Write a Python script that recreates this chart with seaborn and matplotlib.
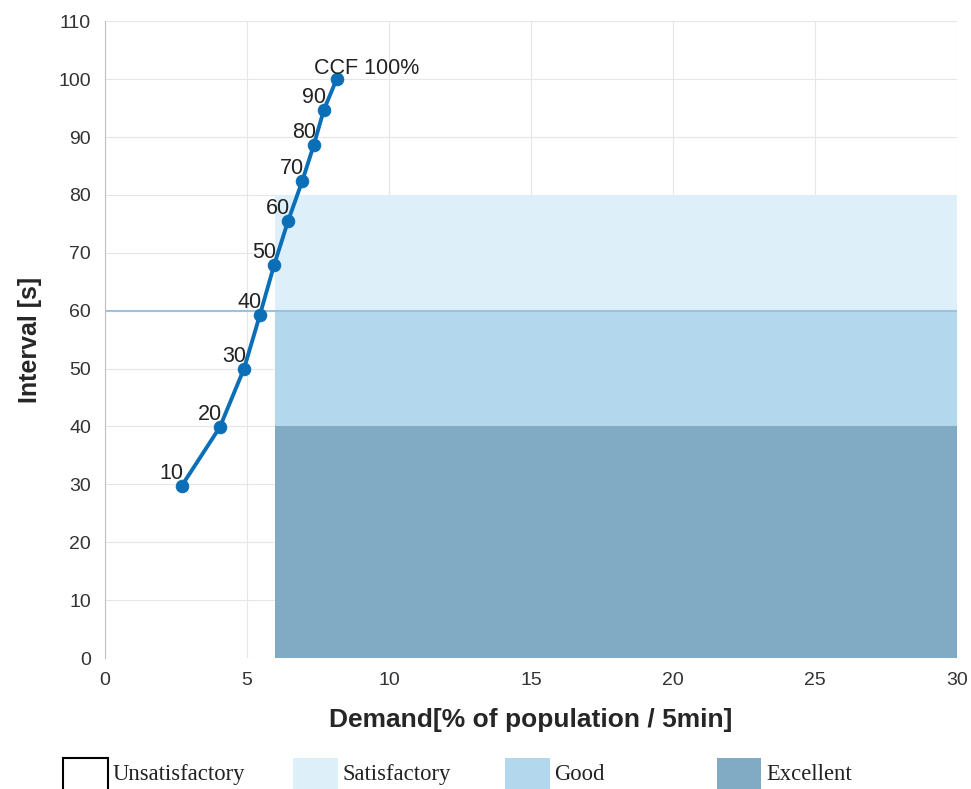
import numpy as np
import pandas as pd
import matplotlib.pyplot as plt
import matplotlib.patches as mpatches
import seaborn as sns

# === Data ===
ccf_labels = ['10', '20', '30', '40', '50', '60', '70', '80', '90', 'CCF 100%']
demand = [2.70, 4.05, 4.90, 5.46, 5.96, 6.45, 6.95, 7.36, 7.71, 8.16]
interval = [29.7, 39.9, 50.0, 59.3, 67.9, 75.5, 82.4, 88.7, 94.7, 100.0]

# service level bands
band_names = ['Excellent', 'Good', 'Satisfactory']
band_x0 = [6, 6, 6]
band_x1 = [30, 30, 30]
band_y0 = [0, 40, 60]
band_y1 = [40, 60, 80]
band_colors = ['#81aac5', '#b3d7ec', '#ddeff8']

legend_names = ['Unsatisfactory', 'Satisfactory', 'Good', 'Excellent']
legend_colors = ['white', '#ddeff8', '#b3d7ec', '#81aac5']

df = pd.DataFrame({'demand': demand, 'interval': interval, 'label': ccf_labels})

sns.set_style('whitegrid', {'grid.color': '#e6e6e6', 'axes.edgecolor': '#bfbfbf'})
plt.rcParams['font.family'] = ['Liberation Sans', 'DejaVu Sans']

fig = plt.figure(figsize=(9.71, 7.89), dpi=100)
ax = fig.add_axes([0.108, 0.166, 0.8775, 0.807])

# bands
for x0, x1, y0, y1, c in zip(band_x0, band_x1, band_y0, band_y1, band_colors):
    ax.add_patch(mpatches.Rectangle((x0, y0), x1 - x0, y1 - y0, facecolor=c,
                                    edgecolor='none', zorder=1))
ax.axhline(60, color='#9cc3dd', lw=1.5, zorder=1.5)

# CCF curve
sns.lineplot(data=df, x='demand', y='interval', ax=ax, color='#0b6fb8', lw=2.8,
             marker='o', markersize=9, markeredgecolor='#0b6fb8', zorder=3,
             sort=False)

for i, row in df.iterrows():
    if row['label'].startswith('CCF'):
        ax.annotate(row['label'], (row['demand'], row['interval']), xytext=(-16, 0),
                    textcoords='offset points', ha='left', va='bottom',
                    fontsize=15.5, color='#222222', zorder=4)
    else:
        ax.annotate(row['label'], (row['demand'], row['interval']), xytext=(1.5, 1.5),
                    textcoords='offset points', ha='right', va='bottom',
                    fontsize=15.5, color='#222222', zorder=4)

ax.set_xlim(0, 30)
ax.set_ylim(0, 110)
ax.set_xticks(np.arange(0, 31, 5))
ax.set_yticks(np.arange(0, 111, 10))
ax.tick_params(axis='both', labelsize=14, labelcolor='#333333', length=0, pad=10)
ax.set_axisbelow(True)
for s in ['top', 'right', 'bottom']:
    ax.spines[s].set_visible(False)
ax.spines['left'].set_color('#bfbfbf')

ax.set_xlabel('Demand[% of population / 5min]', fontsize=19, fontweight='bold', labelpad=14)
ax.set_ylabel('Interval [s]', fontsize=18, fontweight='bold', labelpad=12)

# legend along the bottom edge
leg_x = [0.065, 0.302, 0.520, 0.738]
for x, name, c in zip(leg_x, legend_names, legend_colors):
    fig.patches.append(mpatches.Rectangle((x, -0.01), 0.046, 0.049, transform=fig.transFigure,
                                          facecolor=c, edgecolor='black' if c == 'white' else 'none',
                                          lw=1.5, figure=fig))
    fig.text(x + 0.051, 0.018, name, fontsize=16.3, family=['Liberation Serif', 'DejaVu Serif'],
             color='#222222', va='center', ha='left')

fig.savefig('out.png', dpi=100)
